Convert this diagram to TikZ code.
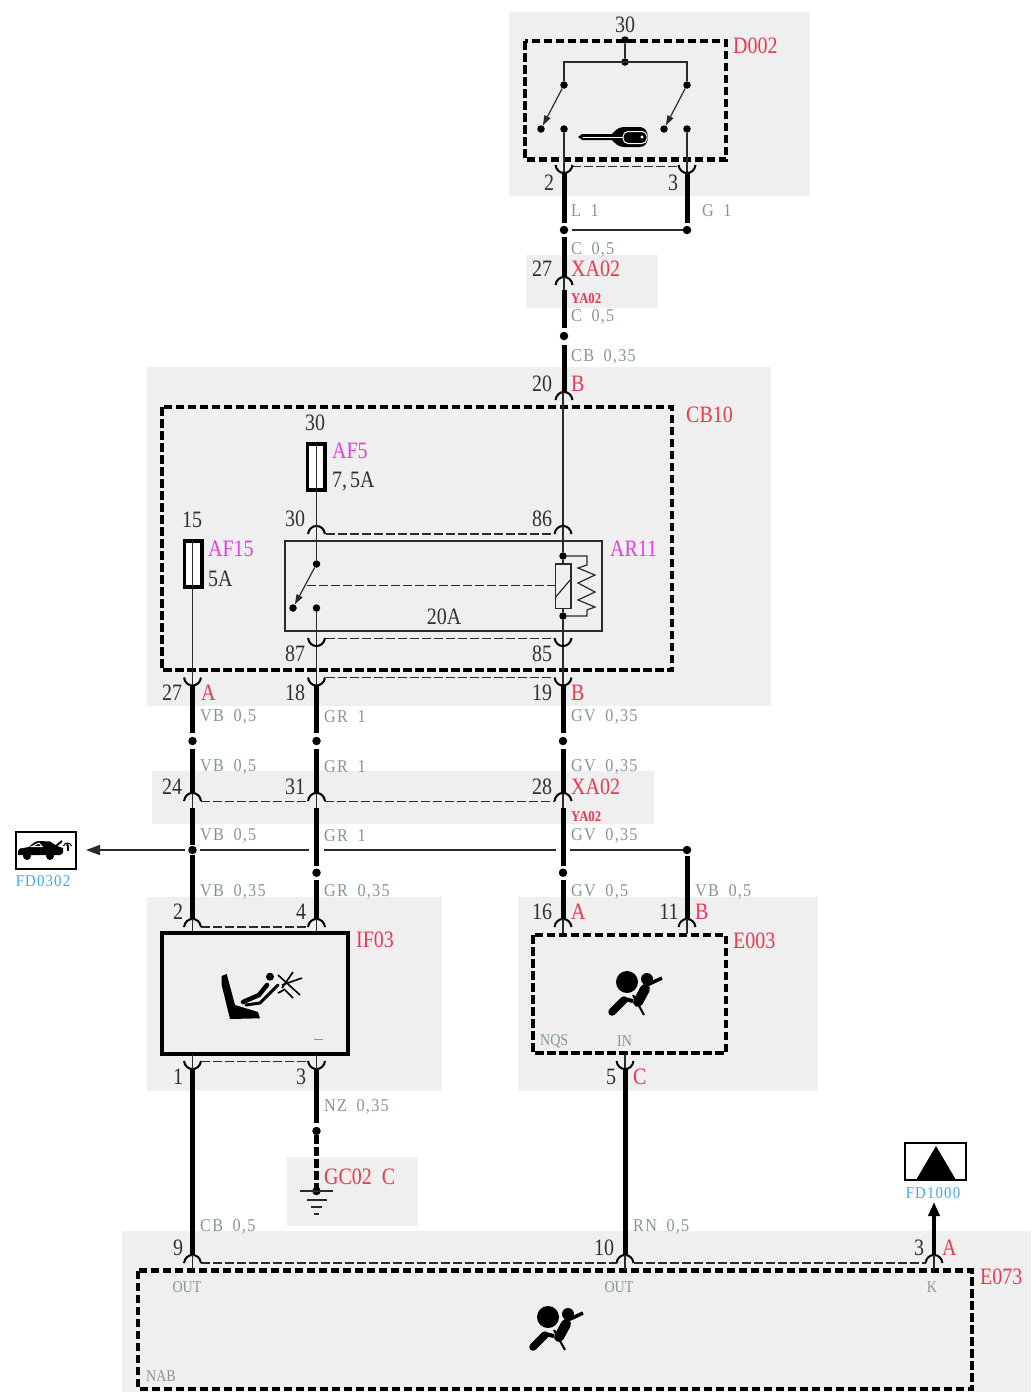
\documentclass[tikz,border=0pt]{standalone}
\usepackage{fontspec}
\setmainfont[FakeStretch=0.85]{Liberation Serif}
\newfontfamily\wirefont[FakeStretch=0.9,LetterSpace=7,WordSpace=1.8]{Liberation Serif}
\usetikzlibrary{arrows.meta}
\definecolor{panel}{HTML}{EFEFEF}
\definecolor{redtxt}{HTML}{E8394F}
\definecolor{magtxt}{HTML}{E23FE0}
\definecolor{bluetxt}{HTML}{42A8EE}
\definecolor{graytxt}{HTML}{83959A}
\definecolor{numtxt}{HTML}{303030}
\definecolor{thincol}{HTML}{2A2A2A}
\newcommand{\bigf}{\fontsize{23.5}{24}\selectfont}
\newcommand{\numf}{\fontsize{23.5}{24}\selectfont}
\newcommand{\midf}{\wirefont\fontsize{18}{18}\selectfont}
\newcommand{\bluef}{\wirefont\fontsize{16.5}{17}\selectfont}
\newcommand{\pinf}{\fontsize{16.5}{17}\selectfont}
\tikzset{
  x=1pt,y=-1pt,
  panelbox/.style={fill=panel,draw=none},
  wire/.style={line width=5pt},
  thinw/.style={line width=1.2pt,draw=thincol},
  arcw/.style={line width=2pt},
  busdash/.style={line width=1.2pt,draw=thincol,dash pattern=on 9pt off 3pt},
  boxdash/.style={line width=4.5pt,dash pattern=on 8.5pt off 3.5pt},
  jdot/.style={circle,fill=black,inner sep=0pt,minimum size=8.5pt},
  sdot/.style={circle,fill=black,inner sep=0pt,minimum size=7.5pt},
  numlab/.style={text=numtxt,inner sep=0pt,font=\numf},
  redlab/.style={text=redtxt,inner sep=0pt,anchor=west,font=\bigf},
  reds/.style={text=redtxt,inner sep=0pt,anchor=west,font=\fontsize{15}{15}\selectfont\bfseries},
  maglab/.style={text=magtxt,inner sep=0pt,anchor=west,font=\bigf},
  wirelab/.style={text=graytxt,inner sep=0pt,anchor=west,font=\midf},
  pinlab/.style={text=graytxt,inner sep=0pt,font=\pinf},
  bluelab/.style={text=bluetxt,inner sep=0pt,font=\bluef},
  switcharrow/.style={thinw,-{Triangle[length=10pt,width=6.5pt]}},
  airbagicon/.pic={
    \fill (0,0) circle (11);
    \fill (20,-3) circle (6);
    \draw[line width=10pt,line cap=round] (18,7) -- (11,20);
    \draw[line width=3.5pt] (20,3) -- (35,-4);
    \draw[line width=7.5pt,line cap=round] (-15,30) -- (-3,18);
    \draw[line width=4pt] (-3,17) -- (6,19);
    \draw[line width=2pt] (6,13) -- (17,33);
  },
  fusebox/.style={draw=black,fill=white,line width=3.5pt},
}
% cap symbols: #2 is the apex of the arc
\newcommand{\capup}[2]{\draw[arcw] (#1-8.5,#2+8) .. controls (#1-7,#2-2.7) and (#1+7,#2-2.7) .. (#1+8.5,#2+8);}
\newcommand{\capdn}[2]{\draw[arcw] (#1-8.5,#2-8) .. controls (#1-7,#2+2.7) and (#1+7,#2+2.7) .. (#1+8.5,#2-8);}
\begin{document}
\begin{tikzpicture}
\useasboundingbox (0,0) rectangle (1031,1392);
\fill[white] (0,0) rectangle (1031,1392);
% panels
\fill[panelbox] (509,12) rectangle (810,196);
\fill[panelbox] (526,255) rectangle (658,308);
\fill[panelbox] (147,367) rectangle (771,706);
\fill[panelbox] (152,771) rectangle (654,824);
\fill[panelbox] (147,897) rectangle (442,1091);
\fill[panelbox] (518,897) rectangle (818,1091);
\fill[panelbox] (287,1157) rectangle (418,1226);
\fill[panelbox] (122,1231) rectangle (1031,1392);

% ===== D002 =====
\draw[boxdash] (525,41) rectangle (726,159.5);
\node[sdot] (dtop) at (625,40) {};
\node[sdot] (dj) at (625,62) {};
\coordinate (dl) at (564,62);
\coordinate (dr) at (687,62);
\node[sdot] (sl1) at (564,85) {};
\node[sdot] (sr1) at (687,85) {};
\node[sdot] (sl2) at (541,129) {};
\node[sdot] (sr2) at (664,129) {};
\node[sdot] (sl3) at (564,129) {};
\node[sdot] (sr3) at (687,129) {};
\draw[thinw] (dtop) -- (dj);
\draw[thinw] (sl1) -- (dl) -- (dr) -- (sr1);
\draw[switcharrow] (sl1) -- (sl2);
\draw[switcharrow] (sr1) -- (sr2);
% key
\fill (578,137) -- (582,134) -- (612,134) .. controls (615,131) and (618,127) .. (624,127) -- (640,127) .. controls (650,127) and (651,147) .. (640,147) -- (624,147) .. controls (618,147) and (615,143) .. (612,140) -- (582,140) -- cycle;
\draw[white,line width=1pt,rounded corners=5pt] (623,131.5) rectangle (647,143.5);
\fill[white] (642,137) circle (1.7);
\draw[white,line width=.9pt] (583,137) -- (623,137);
\coordinate (c2) at (564,173);
\coordinate (c3) at (687,173);
\draw[busdash] (572,166.5) -- (679,166.5);
\draw[thinw] (sl3) -- (c2);
\draw[thinw] (sr3) -- (c3);
\capdn{564}{173}
\capdn{687}{173}
\coordinate (j2up) at (564,223);
\coordinate (j3up) at (687,223);
\node[jdot] (j2) at (564,230) {};
\node[jdot] (j3) at (687,230) {};
\draw[wire] (c2) -- (j2up);
\draw[wire] (c3) -- (j3up);
\draw[thinw] (572,230) -- (j3);
\coordinate (w27a) at (564,237);
\coordinate (w27b) at (564,277);
\draw[wire] (w27a) -- (w27b);
\capup{564}{277}
\coordinate (w27c) at (564,290);
\draw[thinw] (w27b) -- (w27c);
\node[jdot] (j4) at (564,336) {};
\draw[wire] (w27c) -- (564,328);
\draw[wire] (564,345) -- (564,392);
\capup{564}{392}

\node[numlab] at (625,25) {30};
\node[redlab] at (733,46) {D002};
\node[numlab] at (549,183) {2};
\node[numlab] at (673,183) {3};
\node[wirelab] at (571,211) {L 1};
\node[wirelab] at (702,211) {G 1};
\node[wirelab] at (571,249.5) {C 0,5};
\node[numlab] at (542,269) {27};
\node[redlab] at (571,269) {XA02};
\node[reds] at (571,299) {YA02};
\node[wirelab] at (571,316.5) {C 0,5};
\node[wirelab] at (571,357) {CB 0,35};
\node[numlab] at (542,384) {20};
\node[redlab] at (571,384) {B};

% ===== CB10 =====
\draw[boxdash] (162,407) rectangle (672,670);
\node[redlab] at (686,415) {CB10};
% relay box
\draw[line width=1.2pt,draw=thincol] (285,541) rectangle (602,631);
\draw[thinw] (563,392) -- (563,526);
\capup{563}{526}
\capup{316.5}{526}
\draw[busdash] (326,534) -- (553,534);
% fuses
\draw[fusebox] (307.5,444) rectangle (325,490);
\draw[fusebox] (184.5,541) rectangle (202,587);
\coordinate (af5t) at (316.5,443);
\coordinate (af15t) at (192.5,540);
\draw[thinw] (af5t) -- (316.5,526);
\draw[thinw] (af15t) -- (192.5,686);
% switch
\node[sdot] (rs1) at (316.5,564) {};
\node[sdot] (rs2) at (293,608) {};
\node[sdot] (rs3) at (316.5,608) {};
\draw[thinw] (316.5,526) -- (rs1);
\draw[switcharrow] (rs1) -- (rs2);
\draw[thinw] (rs3) -- (316.5,686);
\draw[busdash] (307,585.5) -- (555,585.5);
% coil
\node[sdot] (rc1) at (563,556) {};
\node[sdot] (rc2) at (563,616) {};
\draw[thinw] (563,526) -- (rc1);
\draw[thinw] (rc1) -- (563,564);
\draw[line width=1.2pt,draw=thincol] (555.7,564) rectangle (571,608.7);
\draw[thinw] (555.7,597) -- (571,579);
\draw[thinw] (563,608.7) -- (rc2) -- (563,686);
\draw[thinw] (rc1) -- (587,556) -- (587,565) -- (578,568) -- (595,575) -- (578,583) -- (595,592) -- (578,600) -- (595,607) -- (587,610) -- (587,616) -- (rc2);
\capdn{316.5}{646}
\capdn{563}{646}
\draw[busdash] (326,638.5) -- (553,638.5);
\capdn{192.5}{685.5}
\capdn{316.5}{685.5}
\capdn{563}{685.5}
\draw[busdash] (326,677.5) -- (553,677.5);

\node[numlab] at (315,423) {30};
\node[maglab] at (332,451) {AF5};
\node[numlab,anchor=west] at (332,482) {7,\kern3pt5A};
\node[numlab] at (192,520) {15};
\node[maglab] at (208,549) {AF15};
\node[numlab,anchor=west] at (208,579) {5A};
\node[numlab] at (295,519) {30};
\node[numlab] at (542,519) {86};
\node[maglab] at (610,549) {AR11};
\node[numlab] at (444,617) {20A};
\node[numlab] at (295,654) {87};
\node[numlab] at (542,654) {85};
\node[numlab] at (172,693) {27};
\node[redlab] at (201,693) {A};
\node[numlab] at (295,693) {18};
\node[numlab] at (542,693) {19};
\node[redlab] at (571,693) {B};

% ===== harness =====
\foreach \xx in {192.5,316.5,563}{
  \draw[wire] (\xx,685.5) -- (\xx,733);
  \node[jdot] at (\xx,741) {};
  \draw[wire] (\xx,749) -- (\xx,793);
  \draw[thinw] (\xx,793) -- (\xx,808);
}
\capup{192.5}{793}
\capup{316.5}{793}
\capup{563}{793}
\draw[busdash] (201,801.5) -- (308,801.5);
\draw[busdash] (325,801.5) -- (554.5,801.5);
% horizontal feed
\node[jdot] (fdj) at (192.5,850) {};
\node[jdot] (ej) at (687,850) {};
\draw[thinw,-{Triangle[length=14pt,width=10pt]}] (185,850) -- (86,850);
\draw[thinw] (200,850) -- (309,850);
\draw[thinw] (324,850) -- (556,850);
\draw[thinw] (570,850) -- (ej);
\draw[wire] (192.5,808) -- (192.5,845);
\draw[wire] (192.5,855) -- (192.5,919);
\draw[wire] (316.5,808) -- (316.5,866);
\node[jdot] (gj) at (316.5,872.7) {};
\draw[wire] (316.5,880) -- (316.5,919);
\draw[wire] (563,808) -- (563,866);
\node[jdot] (hj) at (563,872.7) {};
\draw[wire] (563,880) -- (563,919);
\draw[wire] (687,856) -- (687,919);

\node[wirelab] at (200,717) {VB 0,5};
\node[wirelab] at (324,717) {GR 1};
\node[wirelab] at (571,717) {GV 0,35};
\node[wirelab] at (200,767) {VB 0,5};
\node[wirelab] at (324,767) {GR 1};
\node[wirelab] at (571,767) {GV 0,35};
\node[numlab] at (172,787) {24};
\node[numlab] at (295,787) {31};
\node[numlab] at (542,787) {28};
\node[redlab] at (571,787) {XA02};
\node[reds] at (571,817) {YA02};
\node[wirelab] at (200,836) {VB 0,5};
\node[wirelab] at (324,836) {GR 1};
\node[wirelab] at (571,836) {GV 0,35};
\node[wirelab] at (200,892) {VB 0,35};
\node[wirelab] at (324,892) {GR 0,35};
\node[wirelab] at (571,892) {GV 0,5};
\node[wirelab] at (695,892) {VB 0,5};

% FD0302 car
\draw[line width=1.2pt,fill=white] (16,832) rectangle (76,869);
\fill (18,851) -- (20,848.5) -- (29,847) .. controls (33,843) and (36,841) .. (39,841) -- (50,841.5) -- (57,846) -- (63,848) -- (63,853) -- (60,855) -- (18,855) -- cycle;
\fill (27,856) circle (4);
\fill (50,856) circle (4);
\draw[white,line width=1pt] (32,846.5) -- (39,843) -- (42,846.5) -- cycle;
\draw[line width=2pt] (56,846) -- (62,841);
\draw[line width=2pt] (67.5,845.5) -- (67.5,851);
\fill (67.5,845) circle (1.5);
\draw[line width=1pt] (63.5,846) .. controls (64.5,842) and (70.5,842) .. (71.5,846);
\node[bluelab] at (43,881) {FD0302};

% ===== IF03 =====
\capup{192.5}{919}
\capup{316.5}{919}
\draw[busdash] (201,927) -- (308,927);
\draw[thinw] (192.5,919) -- (192.5,933);
\draw[thinw] (316.5,919) -- (316.5,933);
\draw[line width=4.5pt] (162,933) rectangle (348,1054);
% seat icon
\fill (221.7,976) -- (226.7,974) -- (235,1005) -- (258,1012) -- (260,1018.3) -- (230,1019) -- (221.7,985) -- cycle;
\fill (270,976.7) circle (4);
\draw[line width=4.5pt,line cap=round] (267,985) -- (259,995) -- (243,1002);
\draw[line width=3pt,line cap=round] (278,985) -- (260,1003) -- (246,1005);
\draw[line width=1.6pt] (293,972) -- (282,988);
\draw[line width=1.6pt] (278,975) -- (300,995);
\draw[line width=1.6pt] (282,985) -- (302,978);
\draw[line width=1.6pt] (278,993) .. controls (282,991) and (284,990) .. (285,989);
\draw[line width=1.6pt] (285,990) -- (293,998);
\draw[line width=1pt,graytxt] (314,1039.5) -- (323,1039.5);
\capdn{192.5}{1069}
\capdn{316.5}{1069}
\draw[busdash] (201,1061.5) -- (308,1061.5);
\draw[thinw] (192.5,1054) -- (192.5,1069);
\draw[thinw] (316.5,1054) -- (316.5,1069);
\node[numlab] at (178,912) {2};
\node[numlab] at (301,912) {4};
\node[redlab] at (356,940) {IF03};
\node[numlab] at (178,1077) {1};
\node[numlab] at (301,1077) {3};
% wires below
\node[jdot] (nz) at (316.5,1131) {};
\draw[wire] (316.5,1069) -- (316.5,1123);
\draw[line width=5pt,dash pattern=on 9pt off 3pt] (nz.south) -- (316.5,1190);
\node[jdot] (gnd) at (316.5,1191) {};
\draw[thinw] (300,1191) -- (333,1191);
\draw[thinw] (307,1200) -- (327,1200);
\draw[thinw] (311,1207) -- (322,1207);
\draw[thinw] (314,1214) -- (319,1214);
\node[wirelab] at (324,1107) {NZ 0,35};
\node[redlab] at (324,1177) {GC02\hspace{10pt}C};

% ===== E003 =====
\capup{563}{919}
\capup{687}{919}
\draw[thinw] (563,919) -- (563,934);
\draw[thinw] (687,919) -- (687,934);
\draw[boxdash] (533,935) rectangle (726,1053);
\pic at (627,982) {airbagicon};
\draw[thinw] (625,1054) -- (625,1069);
\capdn{625}{1069}
\draw[wire] (625,1069) -- (625,1255);
\draw[wire] (192.5,1069) -- (192.5,1255);
\node[numlab] at (542,912) {16};
\node[redlab] at (571,912) {A};
\node[numlab] at (669,912) {11};
\node[redlab] at (695,912) {B};
\node[redlab] at (733,941) {E003};
\node[pinlab,anchor=west] at (540,1041) {NQS};
\node[pinlab,anchor=west] at (617,1041) {IN};
\node[numlab] at (611,1077) {5};
\node[redlab] at (633,1077) {C};
\node[wirelab] at (200,1227) {CB 0,5};
\node[wirelab] at (633,1227) {RN 0,5};

% ===== E073 =====
\draw[boxdash] (138,1270.5) rectangle (972,1389);
\capup{192.5}{1255}
\capup{625}{1255}
\capup{934}{1255}
\draw[busdash] (201,1263) -- (616.5,1263);
\draw[busdash] (633.5,1263) -- (925.5,1263);
\draw[thinw] (192.5,1255) -- (192.5,1270);
\draw[thinw] (625,1255) -- (625,1270);
\draw[thinw] (934,1255) -- (934,1270);
\pic at (548,1317) {airbagicon};
\draw[line width=1.2pt,fill=white] (905,1143) rectangle (966,1180);
\fill (916,1180) -- (936,1146) -- (956,1180) -- cycle;
\node[bluelab] at (933,1193) {FD1000};
\coordinate (fdarrow) at (934,1202);
\draw[line width=4.5pt,-{Triangle[length=14pt,width=11pt]}] (934,1255) -- (fdarrow);
\node[numlab] at (178,1248) {9};
\node[numlab] at (604,1248) {10};
\node[numlab] at (919,1248) {3};
\node[redlab] at (942,1248) {A};
\node[redlab] at (980,1277) {E073};
\node[pinlab] at (187,1287) {OUT};
\node[pinlab] at (619,1287) {OUT};
\node[pinlab] at (932,1287) {K};
\node[pinlab,anchor=west] at (146,1376) {NAB};
\end{tikzpicture}
\end{document}
